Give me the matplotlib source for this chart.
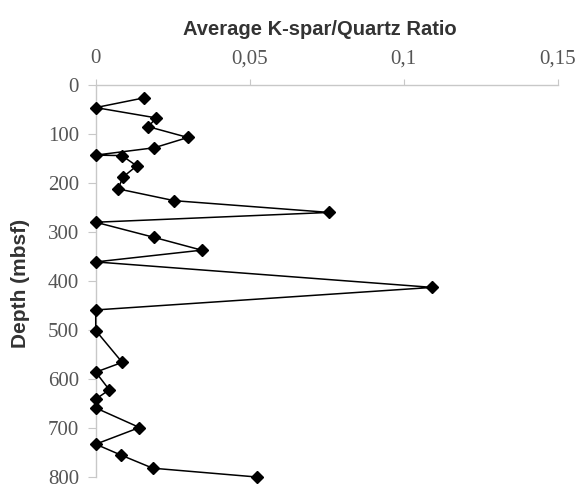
import matplotlib
matplotlib.use("Agg")
import matplotlib.pyplot as plt

plt.rcParams["font.family"] = "serif"
plt.rcParams["font.serif"] = ["Liberation Serif", "DejaVu Serif"]

# K-spar/Quartz ratio against depth
ratio = [0.0158, 0.0, 0.0196, 0.0171, 0.0299, 0.0190, 0.0, 0.0085, 0.0133,
         0.0088, 0.0073, 0.0255, 0.0758, 0.0, 0.0190, 0.0344, 0.0, 0.1093,
         0.0, 0.0, 0.0086, 0.0, 0.0044, 0.0, 0.0, 0.0142, 0.0, 0.0081,
         0.0185, 0.0523]
depth = [26, 46, 67, 85, 107, 128, 143, 144, 165, 188, 212, 236, 260, 280,
         311, 337, 361, 413, 459, 501, 566, 586, 622, 641, 659, 699, 733,
         755, 782, 800]

x_ticks = [0, 0.05, 0.1, 0.15]
x_labels = ["0", "0,05", "0,1", "0,15"]
y_ticks = [0, 100, 200, 300, 400, 500, 600, 700, 800]
y_labels = [str(v) for v in y_ticks]

fig = plt.figure(figsize=(5.75, 4.86), dpi=100)
ax = fig.add_axes([0.1665, 0.0185, 0.8035, 0.8065])

ax.plot(ratio, depth, color="black", lw=1.1, marker="D", markersize=6.5,
        markerfacecolor="black", markeredgecolor="black", clip_on=False, zorder=3)

ax.set_xlim(0, 0.15)
ax.set_ylim(800, 0)
ax.xaxis.tick_top()
ax.set_xticks(x_ticks, x_labels, fontfamily="Liberation Serif")
ax.set_yticks(y_ticks, y_labels, fontfamily="Liberation Serif")

for side in ["right", "bottom"]:
    ax.spines[side].set_visible(False)
for side in ["left", "top"]:
    ax.spines[side].set_color("#c8c8c8")
    ax.spines[side].set_linewidth(1.0)

ax.tick_params(axis="x", length=4, pad=8, color="#c8c8c8", labelsize=15,
               labelcolor="#555555")
ax.tick_params(axis="y", length=6, pad=6, color="#c8c8c8", labelsize=15,
               labelcolor="#555555")

fig.text(0.557, 0.94, "Average K-spar/Quartz Ratio", ha="center", va="center",
         fontsize=14.5, fontweight="bold", family="Liberation Sans", color="#333333")
fig.text(0.036, 0.416, "Depth (mbsf)", ha="center", va="center", rotation=90,
         fontsize=15, fontweight="bold", family="Liberation Sans", color="#333333")

fig.savefig("out.png", dpi=100)
